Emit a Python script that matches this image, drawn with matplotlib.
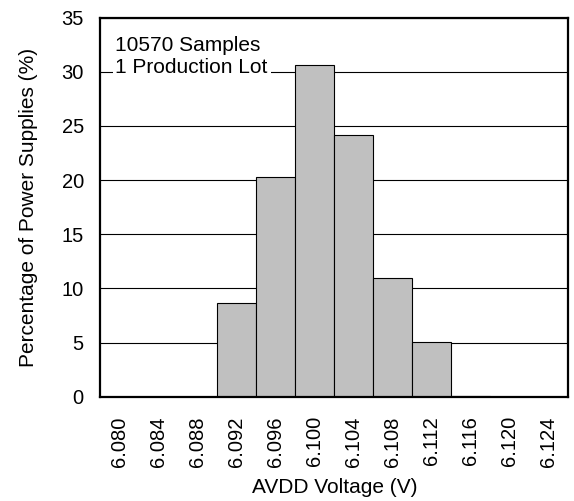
import matplotlib.pyplot as plt

plt.rcParams['font.family'] = ['Liberation Sans', 'DejaVu Sans']

# AVDD voltage bins and percentage of units in each
voltages = ["6.080", "6.084", "6.088", "6.092", "6.096", "6.100",
            "6.104", "6.108", "6.112", "6.116", "6.120", "6.124"]
percent = [0, 0, 0, 8.7, 20.3, 30.6, 24.2, 11.0, 5.1, 0.1, 0, 0]

fig, ax = plt.subplots(figsize=(5.74, 5.01), dpi=100)
fig.subplots_adjust(left=0.175, right=0.99, top=0.965, bottom=0.208)

x = range(len(voltages))
ax.bar(x, percent, width=1.0, color="#c0c0c0", edgecolor="black",
       linewidth=0.8, zorder=2)

ax.set_xlim(-0.5, len(voltages) - 0.5)
ax.set_ylim(0, 35)
ax.set_yticks(range(0, 36, 5))
ax.set_xticks(list(x))
ax.set_xticklabels(voltages, rotation=90)
ax.tick_params(axis="both", length=0, labelsize=14.5)
ax.tick_params(axis="y", pad=12)
ax.tick_params(axis="x", pad=14)

ax.yaxis.grid(True, color="black", linewidth=0.8, zorder=0)
ax.set_axisbelow(True)
for s in ax.spines.values():
    s.set_linewidth(1.6)

ax.set_xlabel("AVDD Voltage (V)", fontsize=15, labelpad=8)
ax.set_ylabel("Percentage of Power Supplies (%)", fontsize=15, labelpad=17)

ax.text(0.032, 0.95, "10570 Samples\n1 Production Lot", transform=ax.transAxes,
        ha="left", va="top", fontsize=15, linespacing=1.15, zorder=3,
        bbox=dict(facecolor="white", edgecolor="none", pad=2))

fig.savefig("out.png", dpi=100)
